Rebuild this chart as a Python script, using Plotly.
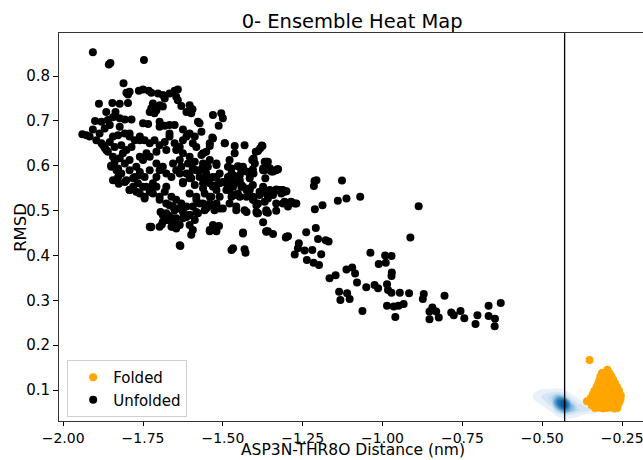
import plotly.graph_objects as go

title_text = "0- Ensemble Heat Map"
x_label = "ASP3N-THR8O Distance (nm)"
y_label = "RMSD"
threshold = -0.43
x_ticks = [-2.00, -1.75, -1.50, -1.25, -1.00, -0.75, -0.50, -0.25]
y_ticks = [0.1, 0.2, 0.3, 0.4, 0.5, 0.6, 0.7, 0.8]

unfolded_points = [
    (-1.907, 0.853), (-1.857, 0.826), (-1.852, 0.829), (-1.747, 0.836), (-1.811, 0.784),
    (-1.792, 0.765), (-1.797, 0.759), (-1.802, 0.763), (-1.763, 0.767), (-1.750, 0.770),
    (-1.732, 0.767), (-1.724, 0.763), (-1.703, 0.761), (-1.688, 0.758), (-1.682, 0.750),
    (-1.667, 0.761), (-1.651, 0.767), (-1.641, 0.770), (-1.646, 0.754), (-1.641, 0.746),
    (-1.719, 0.739), (-1.724, 0.728), (-1.708, 0.724), (-1.698, 0.735), (-1.688, 0.732),
    (-1.729, 0.720), (-1.714, 0.717), (-1.888, 0.738), (-1.846, 0.740), (-1.823, 0.738),
    (-1.797, 0.740), (-1.630, 0.733), (-1.604, 0.735), (-1.595, 0.726), (-1.614, 0.720),
    (-1.599, 0.717), (-1.531, 0.713), (-1.505, 0.717), (-1.500, 0.706), (-1.513, 0.689),
    (-1.865, 0.720), (-1.844, 0.708), (-1.823, 0.706), (-1.807, 0.703), (-1.786, 0.703),
    (-1.880, 0.698), (-1.860, 0.702), (-1.854, 0.691), (-1.870, 0.683), (-1.907, 0.681),
    (-1.927, 0.668), (-1.940, 0.670), (-1.750, 0.695), (-1.734, 0.693), (-1.698, 0.687),
    (-1.682, 0.689), (-1.667, 0.691), (-1.651, 0.691), (-1.578, 0.698), (-1.573, 0.695),
    (-1.625, 0.681), (-1.604, 0.672), (-1.614, 0.665), (-1.588, 0.665), (-1.594, 0.650),
    (-1.531, 0.661), (-1.541, 0.644), (-1.552, 0.631), (-1.567, 0.624), (-1.494, 0.650),
    (-1.463, 0.644), (-1.437, 0.598), (-1.383, 0.639), (-1.397, 0.631), (-1.359, 0.609),
    (-1.327, 0.592), (-1.473, 0.594), (-1.453, 0.599), (-1.442, 0.587), (-1.416, 0.583),
    (-1.374, 0.590), (-1.353, 0.594), (-1.343, 0.587), (-1.327, 0.546), (-1.312, 0.546),
    (-1.301, 0.543), (-1.317, 0.538), (-1.296, 0.516), (-1.275, 0.516), (-1.286, 0.520),
    (-1.374, 0.553), (-1.353, 0.546), (-1.385, 0.535), (-1.359, 0.527), (-1.390, 0.516),
    (-1.406, 0.524), (-1.426, 0.531), (-1.416, 0.546), (-1.442, 0.553), (-1.473, 0.561),
    (-1.458, 0.564), (-1.479, 0.546), (-1.463, 0.535), (-1.447, 0.531), (-1.432, 0.501),
    (-1.458, 0.509), (-1.479, 0.516), (-1.531, 0.553), (-1.520, 0.546), (-1.510, 0.531),
    (-1.536, 0.531), (-1.541, 0.516), (-1.510, 0.505), (-1.526, 0.501), (-1.562, 0.561),
    (-1.557, 0.538), (-1.583, 0.531), (-1.573, 0.516), (-1.594, 0.509), (-1.578, 0.494),
    (-1.604, 0.490), (-1.588, 0.479), (-1.604, 0.468), (-1.620, 0.486), (-1.688, 0.490),
    (-1.672, 0.479), (-1.651, 0.475), (-1.656, 0.464), (-1.635, 0.468), (-1.729, 0.464),
    (-1.698, 0.464), (-1.802, 0.568), (-1.792, 0.546), (-1.781, 0.553), (-1.766, 0.561),
    (-1.750, 0.553), (-1.760, 0.538), (-1.745, 0.531), (-1.729, 0.550), (-1.719, 0.561),
    (-1.708, 0.553), (-1.719, 0.538), (-1.698, 0.531), (-1.682, 0.542), (-1.677, 0.553),
    (-1.661, 0.531), (-1.646, 0.524), (-1.630, 0.516), (-1.635, 0.505), (-1.614, 0.509),
    (-1.625, 0.497), (-1.651, 0.501), (-1.667, 0.512), (-1.583, 0.590), (-1.573, 0.575),
    (-1.599, 0.572), (-1.614, 0.583), (-1.630, 0.598), (-1.646, 0.590), (-1.661, 0.575),
    (-1.677, 0.583), (-1.698, 0.590), (-1.708, 0.575), (-1.729, 0.590), (-1.745, 0.575),
    (-1.760, 0.586), (-1.776, 0.575), (-1.792, 0.590), (-1.807, 0.605), (-1.823, 0.617),
    (-1.839, 0.609), (-1.849, 0.598), (-1.833, 0.590), (-1.818, 0.583), (-1.828, 0.575),
    (-1.844, 0.568), (-1.865, 0.635), (-1.875, 0.646), (-1.854, 0.653), (-1.839, 0.642),
    (-1.818, 0.646), (-1.802, 0.635), (-1.786, 0.642), (-1.776, 0.657), (-1.792, 0.665),
    (-1.807, 0.672), (-1.828, 0.668), (-1.844, 0.665), (-1.760, 0.665), (-1.745, 0.657),
    (-1.729, 0.650), (-1.714, 0.657), (-1.698, 0.646), (-1.682, 0.653), (-1.667, 0.665),
    (-1.651, 0.650), (-1.635, 0.642), (-1.677, 0.635), (-1.708, 0.631), (-1.739, 0.628),
    (-1.760, 0.620), (-1.625, 0.628), (-1.604, 0.620), (-1.588, 0.609), (-1.609, 0.605),
    (-1.635, 0.613), (-1.656, 0.605), (-1.562, 0.605), (-1.547, 0.598), (-1.520, 0.602),
    (-1.510, 0.583), (-1.531, 0.575), (-1.552, 0.572), (-1.500, 0.564), (-1.484, 0.575),
    (-1.896, 0.657), (-1.917, 0.665), (-1.886, 0.672), (-1.726, 0.463), (-1.691, 0.469),
    (-1.677, 0.479), (-1.695, 0.497), (-1.667, 0.488), (-1.745, 0.527), (-1.792, 0.546),
    (-1.807, 0.564), (-1.828, 0.594), (-1.860, 0.631), (-1.880, 0.650), (-1.633, 0.421),
    (-1.473, 0.412), (-1.432, 0.414), (-1.429, 0.406), (-1.541, 0.454), (-1.520, 0.454),
    (-1.531, 0.468), (-1.512, 0.466), (-1.599, 0.446), (-1.594, 0.457), (-1.437, 0.451),
    (-1.364, 0.454), (-1.646, 0.468), (-1.656, 0.483), (-1.625, 0.483), (-1.604, 0.490),
    (-1.583, 0.497), (-1.557, 0.501), (-1.531, 0.509), (-1.458, 0.501), (-1.426, 0.497),
    (-1.390, 0.494), (-1.364, 0.497), (-1.385, 0.542), (-1.406, 0.531), (-1.416, 0.550),
    (-1.437, 0.553), (-1.447, 0.568), (-1.479, 0.568), (-1.468, 0.579), (-1.520, 0.575),
    (-1.510, 0.561), (-1.541, 0.531), (-1.562, 0.516), (-1.604, 0.538), (-1.625, 0.561),
    (-1.635, 0.583), (-1.604, 0.583), (-1.567, 0.676), (-1.533, 0.663), (-1.494, 0.650),
    (-1.463, 0.628), (-1.432, 0.646), (-1.390, 0.633), (-1.376, 0.644), (-1.408, 0.613),
    (-1.369, 0.609), (-1.520, 0.605), (-1.541, 0.613), (-1.562, 0.598), (-1.447, 0.598),
    (-1.479, 0.613), (-1.378, 0.645), (-1.404, 0.614), (-1.374, 0.594),
    (-1.369, 0.590), (-1.348, 0.587), (-1.329, 0.592), (-1.404, 0.583), (-1.367, 0.572),
    (-1.213, 0.566), (-1.207, 0.568), (-1.127, 0.567), (-1.215, 0.555), (-1.406, 0.557),
    (-1.333, 0.547), (-1.317, 0.546), (-1.307, 0.544), (-1.379, 0.542), (-1.353, 0.538),
    (-1.404, 0.524), (-1.369, 0.520), (-1.113, 0.527),
    (-1.140, 0.522), (-1.070, 0.531), (-1.312, 0.516), (-1.291, 0.518), (-1.270, 0.516),
    (-1.296, 0.509), (-1.188, 0.512), (-1.212, 0.503), (-0.887, 0.510), (-1.333, 0.500),
    (-1.393, 0.494), (-1.359, 0.495), (-1.374, 0.474), (-1.359, 0.454), (-1.343, 0.448),
    (-1.303, 0.440), (-1.296, 0.443), (-1.239, 0.452), (-1.209, 0.461), (-1.202, 0.437),
    (-1.178, 0.434), (-1.169, 0.431), (-0.913, 0.440), (-1.262, 0.427), (-1.265, 0.416),
    (-1.244, 0.411), (-1.220, 0.412), (-1.192, 0.403), (-1.275, 0.402), (-1.237, 0.390),
    (-1.216, 0.384), (-1.199, 0.379), (-1.038, 0.406), (-0.992, 0.400), (-0.972, 0.399),
    (-1.012, 0.381), (-0.990, 0.384), (-1.166, 0.349), (-1.147, 0.356), (-1.113, 0.369),
    (-1.095, 0.373), (-1.086, 0.360), (-1.080, 0.340), (-0.971, 0.362), (-0.972, 0.354),
    (-1.051, 0.329), (-1.025, 0.334), (-1.014, 0.327), (-0.986, 0.336), (-0.983, 0.323),
    (-0.972, 0.317), (-0.946, 0.317), (-1.136, 0.319), (-1.111, 0.316), (-1.132, 0.301),
    (-1.103, 0.303), (-0.917, 0.316), (-0.871, 0.314), (-0.874, 0.303), (-0.806, 0.310),
    (-1.063, 0.276), (-0.986, 0.288), (-0.965, 0.286), (-0.950, 0.288), (-0.934, 0.292),
    (-0.960, 0.263), (-0.853, 0.275), (-0.844, 0.284), (-0.832, 0.275), (-0.824, 0.262),
    (-0.853, 0.258), (-0.785, 0.273), (-0.777, 0.267), (-0.756, 0.276), (-0.744, 0.260),
    (-0.703, 0.267), (-0.709, 0.247), (-0.668, 0.288), (-0.630, 0.294), (-0.668, 0.265),
    (-0.648, 0.259), (-0.649, 0.242),
    (-1.404, 0.616), (-1.400, 0.605), (-1.406, 0.592), (-1.364, 0.609), (-1.353, 0.594),
    (-1.333, 0.590), (-1.484, 0.598), (-1.473, 0.583), (-1.447, 0.579), (-1.426, 0.587),
    (-1.416, 0.572), (-1.489, 0.561), (-1.468, 0.553), (-1.442, 0.557), (-1.426, 0.546),
    (-1.453, 0.538), (-1.473, 0.531), (-1.489, 0.546), (-1.364, 0.538), (-1.343, 0.535),
    (-1.322, 0.546), (-1.307, 0.542), (-1.395, 0.512), (-1.333, 0.516), (-1.307, 0.520),
    (-1.395, 0.497), (-1.364, 0.501), (-1.364, 0.453), (-1.301, 0.442), (-1.437, 0.449),
    (-1.468, 0.416), (-1.541, 0.457), (-1.520, 0.464), (-1.635, 0.423), (-1.724, 0.464),
    (-1.583, 0.524), (-1.552, 0.505), (-1.520, 0.516), (-1.500, 0.505), (-1.588, 0.557),
    (-1.562, 0.550), (-1.541, 0.561), (-1.520, 0.557), (-1.698, 0.524), (-1.677, 0.516),
    (-1.656, 0.509), (-1.677, 0.494), (-1.646, 0.483), (-1.614, 0.486), (-1.688, 0.475),
    (-1.661, 0.464), (-1.646, 0.460), (-1.740, 0.553), (-1.729, 0.542), (-1.771, 0.542),
    (-1.781, 0.572), (-1.760, 0.579), (-1.625, 0.564), (-1.604, 0.572), (-1.552, 0.583),
    (-1.573, 0.590), (-1.594, 0.594), (-1.844, 0.620), (-1.813, 0.628), (-1.792, 0.613),
    (-1.771, 0.598), (-1.750, 0.613), (-1.729, 0.620), (-1.708, 0.605), (-1.688, 0.598),
    (-1.646, 0.635), (-1.625, 0.657), (-1.583, 0.642), (-1.562, 0.628), (-1.541, 0.650),
    (-1.667, 0.672), (-1.698, 0.698), (-1.760, 0.657), (-1.792, 0.672), (-1.823, 0.687),
    (-1.870, 0.640), (-1.850, 0.600), (-1.826, 0.560), (-1.900, 0.700), (-1.836, 0.720),
]

folded_points = [
    (-0.352, 0.167), (-0.296, 0.145), (-0.313, 0.138), (-0.299, 0.139), (-0.289, 0.137),
    (-0.318, 0.130), (-0.305, 0.131), (-0.292, 0.129), (-0.284, 0.131),
    (-0.321, 0.122), (-0.309, 0.123), (-0.297, 0.121), (-0.286, 0.122), (-0.278, 0.123),
    (-0.325, 0.114), (-0.314, 0.113), (-0.302, 0.115), (-0.291, 0.114), (-0.280, 0.113), (-0.272, 0.115),
    (-0.330, 0.106), (-0.318, 0.107), (-0.306, 0.105), (-0.295, 0.106), (-0.283, 0.107), (-0.272, 0.105), (-0.266, 0.107),
    (-0.337, 0.098), (-0.325, 0.099), (-0.313, 0.097), (-0.300, 0.098), (-0.289, 0.099), (-0.277, 0.097), (-0.266, 0.098), (-0.260, 0.099),
    (-0.342, 0.090), (-0.330, 0.091), (-0.318, 0.089), (-0.306, 0.090), (-0.294, 0.091), (-0.282, 0.089), (-0.270, 0.090), (-0.259, 0.091), (-0.254, 0.088),
    (-0.348, 0.082), (-0.336, 0.083), (-0.324, 0.081), (-0.312, 0.082), (-0.300, 0.083), (-0.288, 0.081), (-0.276, 0.082), (-0.264, 0.083), (-0.255, 0.080),
    (-0.360, 0.075), (-0.342, 0.074), (-0.330, 0.075), (-0.318, 0.073), (-0.306, 0.074), (-0.294, 0.075), (-0.282, 0.073), (-0.270, 0.074), (-0.259, 0.073),
    (-0.345, 0.066), (-0.333, 0.067), (-0.321, 0.065), (-0.309, 0.066), (-0.297, 0.067), (-0.285, 0.065), (-0.273, 0.066), (-0.263, 0.067),
    (-0.335, 0.060), (-0.322, 0.061), (-0.310, 0.059), (-0.298, 0.060), (-0.286, 0.061), (-0.274, 0.059), (-0.265, 0.060),
]

kde_x = [-0.53, -0.51, -0.49, -0.47, -0.45, -0.43, -0.41, -0.39, -0.37, -0.35, -0.33, -0.31, -0.29]
kde_y = [0.035, 0.045, 0.055, 0.065, 0.075, 0.085, 0.095, 0.105, 0.115]
kde_z = [
    [0.00, 0.00, 0.00, 0.00, 0.00, 0.00, 0.00, 0.00, 0.00, 0.00, 0.00, 0.00, 0.00],
    [0.00, 0.00, 0.00, 0.00, 0.04, 0.12, 0.10, 0.04, 0.02, 0.00, 0.00, 0.00, 0.00],
    [0.00, 0.00, 0.00, 0.04, 0.30, 0.55, 0.35, 0.20, 0.14, 0.10, 0.05, 0.00, 0.00],
    [0.00, 0.00, 0.04, 0.14, 0.60, 0.95, 0.40, 0.16, 0.10, 0.06, 0.02, 0.00, 0.00],
    [0.00, 0.04, 0.10, 0.22, 0.70, 0.80, 0.22, 0.06, 0.02, 0.00, 0.00, 0.00, 0.00],
    [0.02, 0.08, 0.14, 0.22, 0.40, 0.30, 0.06, 0.00, 0.00, 0.00, 0.00, 0.00, 0.00],
    [0.00, 0.04, 0.08, 0.10, 0.12, 0.06, 0.00, 0.00, 0.00, 0.00, 0.00, 0.00, 0.00],
    [0.00, 0.00, 0.00, 0.00, 0.00, 0.00, 0.00, 0.00, 0.00, 0.00, 0.00, 0.00, 0.00],
    [0.00, 0.00, 0.00, 0.00, 0.00, 0.00, 0.00, 0.00, 0.00, 0.00, 0.00, 0.00, 0.00],
]

FONT = "DejaVu Sans"

fig = go.Figure()

fig.add_trace(go.Contour(
    x=kde_x, y=kde_y, z=kde_z,
    zmin=0, zmax=1,
    contours=dict(start=0.02, end=1.0, size=0.08, coloring="fill", showlines=False),
    line=dict(width=0, smoothing=1.3),
    colorscale=[
        [0.0, "rgba(255,255,255,0)"],
        [0.02, "rgba(222,235,247,0.6)"],
        [0.2, "rgba(198,219,239,0.9)"],
        [0.4, "rgb(107,174,214)"],
        [0.6, "rgb(49,130,189)"],
        [0.8, "rgb(16,90,160)"],
        [1.0, "rgb(8,48,107)"],
    ],
    showscale=False, showlegend=False, hoverinfo="skip",
))

fig.add_trace(go.Scatter(
    x=[p[0] for p in folded_points], y=[p[1] for p in folded_points],
    mode="markers", name="Folded",
    marker=dict(color="#FFA500", size=8, line=dict(width=0)),
))
fig.add_trace(go.Scatter(
    x=[p[0] for p in unfolded_points], y=[p[1] for p in unfolded_points],
    mode="markers", name="Unfolded",
    marker=dict(color="black", size=8, line=dict(width=0)),
))

fig.add_shape(type="line", xref="x", yref="paper", x0=threshold, x1=threshold,
              y0=0, y1=1, line=dict(color="black", width=1.3), layer="above")

fig.add_annotation(text=x_label, xref="paper", yref="paper", x=0.504, y=-0.1015,
                   xanchor="center", yanchor="bottom", showarrow=False, borderpad=0,
                   font=dict(size=15.5, family=FONT, color="black"))
fig.add_annotation(text=y_label, xref="paper", yref="paper", x=-0.067, y=0.5,
                   xanchor="center", yanchor="middle", showarrow=False, textangle=-90,
                   font=dict(size=16.5, family=FONT, color="black"))

fig.update_layout(
    width=643, height=460,
    margin=dict(l=59, r=0, t=33, b=39),
    paper_bgcolor="white", plot_bgcolor="white",
    font=dict(family=FONT, color="black", size=14),
    title=dict(text=title_text, x=0.502, xref="paper", xanchor="center",
               y=0.955, yref="container", yanchor="middle",
               font=dict(size=19.5, family=FONT, color="black")),
    legend=dict(x=0.014, y=0.01, xanchor="left", yanchor="bottom",
                bordercolor="#d0d0d0", borderwidth=1, bgcolor="rgba(255,255,255,0.8)",
                font=dict(size=15, family=FONT), itemsizing="trace",
                indentation=5, tracegroupgap=0),
    showlegend=True,
)

fig.update_xaxes(
    range=[-2.013, -0.1846], tickvals=x_ticks, tickformat=".2f",
    ticks="outside", ticklen=4, tickwidth=1, tickcolor="black",
    showline=True, linecolor="#333", linewidth=1, mirror=True,
    showgrid=False, zeroline=False, ticklabeloverflow="allow",
    tickfont=dict(size=14, family=FONT),
)
fig.update_yaxes(
    range=[0.031, 0.896], tickvals=y_ticks, tickformat=".1f",
    ticks="outside", ticklen=5, tickwidth=1, tickcolor="black",
    showline=True, linecolor="#333", linewidth=1, mirror=True,
    showgrid=False, zeroline=False,
    tickfont=dict(size=15, family=FONT),
)

fig.write_html("out.html")
